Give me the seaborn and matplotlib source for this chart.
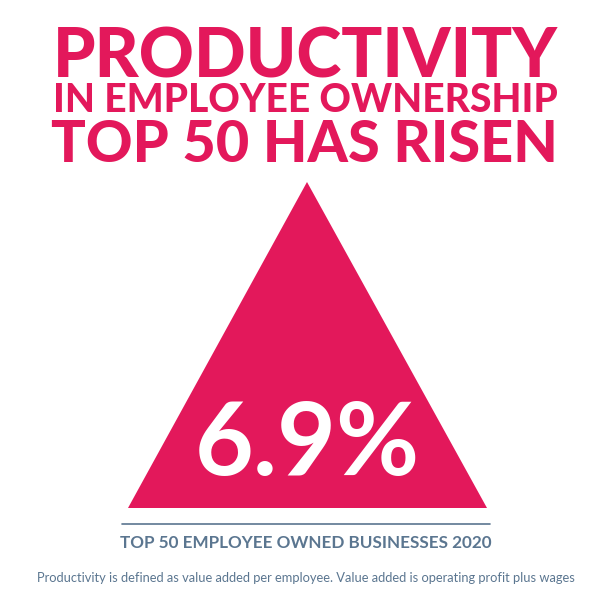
import matplotlib
matplotlib.use("Agg")
import matplotlib.pyplot as plt
import seaborn as sns

# Content
title_lines = ["PRODUCTIVITY", "IN EMPLOYEE OWNERSHIP", "TOP 50 HAS RISEN"]
growth_value = 6.9
subtitle = "TOP 50 EMPLOYEE OWNED BUSINESSES 2020"
footnote = ("Productivity is defined as value added per employee. "
            "Value added is operating profit plus wages")

pink = "#E3185B"
slate = "#5B7690"

sns.set_theme(style="white")
plt.rcParams['font.family'] = ['Lato', 'DejaVu Sans']

fig = plt.figure(figsize=(6.12, 6.12), dpi=100)
ax = fig.add_axes([0, 0, 1, 1])
ax.set_xlim(0, 612)
ax.set_ylim(612, 0)
ax.axis("off")


def fit_text(x, y, s, width, size, **kw):
    # scale the font so the text spans the given pixel width
    t = ax.text(x, y, s, ha="center", va="baseline", fontsize=size, **kw)
    r = fig.canvas.get_renderer()
    w = t.get_window_extent(r).width
    t.set_fontsize(size * width / w)
    return t


# title block
fit_text(305, 78, title_lines[0], 505, 50, color=pink, fontweight="black")
fit_text(305, 112, title_lines[1], 505, 26, color=pink, fontweight="black")
fit_text(304, 162, title_lines[2], 507, 42, color=pink, fontweight="black")

# rising triangle
ax.fill([128, 307, 487], [508, 182, 508], color=pink, linewidth=0)
fit_text(307, 475, f"{growth_value}%", 225, 80, color="white", fontweight="bold")

# source rule + labels
ax.plot([122, 490], [524, 524], color=slate, linewidth=1.2)
fit_text(306, 548, subtitle, 372, 12, color=slate, fontweight="bold")
fit_text(306, 582, footnote, 543, 10, color=slate)

fig.savefig("out.png", dpi=100)
